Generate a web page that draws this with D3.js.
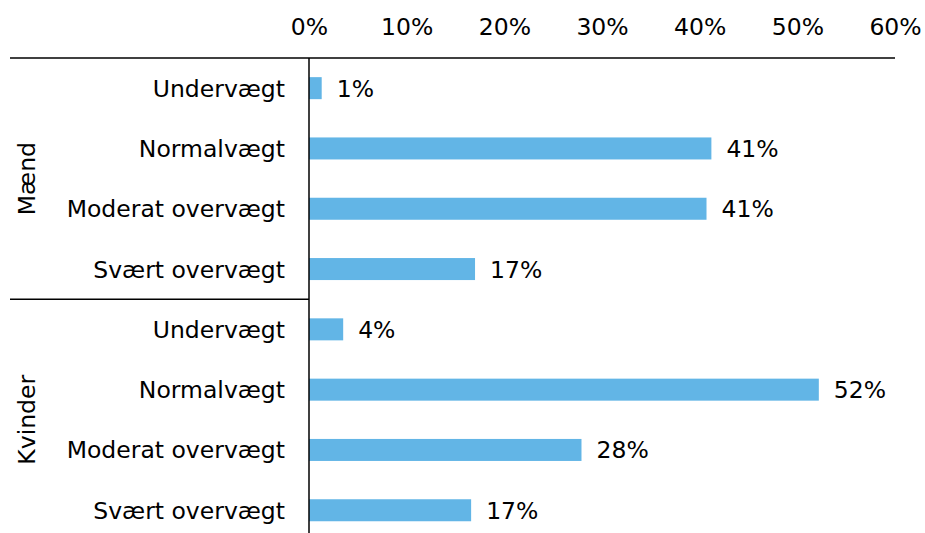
<html>
  <head>
    <script src="https://d3js.org/d3.v7.min.js"></script>
    <style>
      body { margin: 0; background: #fff; }
      text { font-family: "DejaVu Sans", Verdana, sans-serif; font-size: 23.5px; fill: #000; }
    </style>
  </head>
  <body>
    <script>
        // data
        var groups = ["Mænd", "Kvinder"];
        var categories = ["Undervægt", "Normalvægt", "Moderat overvægt", "Svært overvægt"];
        var maendValues = [1.3, 41.2, 40.7, 17.0];
        var kvinderValues = [3.5, 52.2, 27.9, 16.6];
        var xTicks = [0, 10, 20, 30, 40, 50, 60];

        var width = 925, height = 533;
        var svg = d3.select("body").append("svg")
            .attr("width", width)
            .attr("height", height);

        // one row per group/category pair
        var rows = [];
        groups.forEach(function (g, gi) {
            var vals = gi === 0 ? maendValues : kvinderValues;
            categories.forEach(function (c, ci) {
                rows.push({ group: g, cat: c, value: vals[ci], id: g + "-" + c });
            });
        });

        var x = d3.scaleLinear().domain([0, 60]).range([309, 895]);
        var y = d3.scaleBand()
            .domain(rows.map(function (d) { return d.id; }))
            .range([58, 58 + rows.length * 60.3])
            .paddingInner(0.635)
            .paddingOuter(0.3175);

        // top axis labels
        var axis = d3.axisTop(x)
            .tickValues(xTicks)
            .tickSize(0)
            .tickPadding(0)
            .tickFormat(function (d) { return d + "%"; });
        var gx = svg.append("g")
            .attr("transform", "translate(0,35)")
            .call(axis);
        gx.select(".domain").remove();
        gx.selectAll("text")
            .attr("font-family", null)
            .attr("font-size", null)
            .attr("dy", 0)
            .attr("y", 0)
            .attr("fill", "#000");

        // bars
        svg.append("g")
            .selectAll("rect")
            .data(rows)
            .enter().append("rect")
            .attr("x", x(0))
            .attr("y", function (d) { return y(d.id); })
            .attr("width", function (d) { return x(d.value) - x(0); })
            .attr("height", y.bandwidth())
            .attr("fill", "#62b5e6");

        // value labels
        svg.append("g")
            .selectAll("text")
            .data(rows)
            .enter().append("text")
            .attr("x", function (d) { return x(d.value) + 15; })
            .attr("y", function (d) { return y(d.id) + y.bandwidth() / 2; })
            .attr("dy", "0.36em")
            .text(function (d) { return Math.round(d.value) + "%"; });

        // category labels
        svg.append("g")
            .selectAll("text")
            .data(rows)
            .enter().append("text")
            .attr("x", 285)
            .attr("y", function (d) { return y(d.id) + y.bandwidth() / 2; })
            .attr("dy", "0.36em")
            .attr("text-anchor", "end")
            .text(function (d) { return d.cat; });

        // lines
        var step = y.step();
        svg.append("line")
            .attr("x1", 10).attr("x2", 895)
            .attr("y1", 58).attr("y2", 58)
            .attr("stroke", "#000").attr("stroke-width", 1.5);
        svg.append("line")
            .attr("x1", x(0)).attr("x2", x(0))
            .attr("y1", 58).attr("y2", height)
            .attr("stroke", "#000").attr("stroke-width", 1.5);
        svg.append("line")
            .attr("x1", 10).attr("x2", x(0))
            .attr("y1", 58 + categories.length * step).attr("y2", 58 + categories.length * step)
            .attr("stroke", "#000").attr("stroke-width", 1.5);

        // group labels, rotated
        svg.append("g")
            .selectAll("text")
            .data(groups)
            .enter().append("text")
            .attr("transform", function (d, i) {
                var cy = 58 + (i + 0.5) * categories.length * step;
                return "translate(27," + cy + ") rotate(-90)";
            })
            .attr("dy", "0.36em")
            .attr("text-anchor", "middle")
            .text(function (d) { return d; });
    </script>
  </body>
</html>
